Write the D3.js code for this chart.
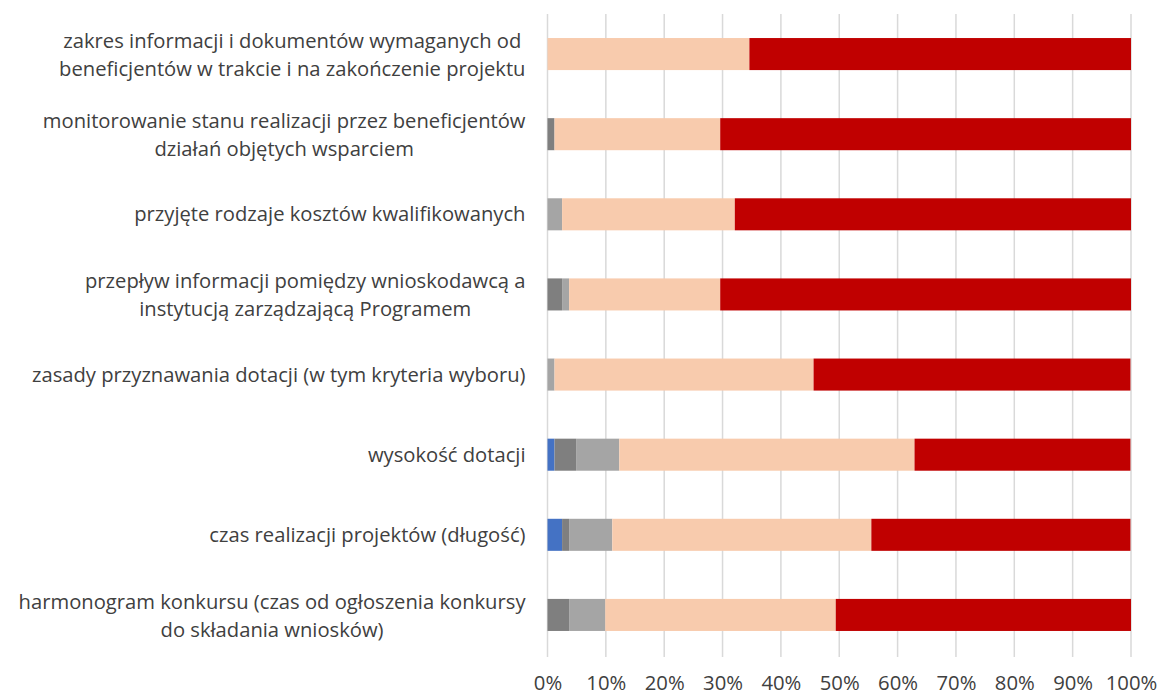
<!DOCTYPE html>
<html>
<head>
<meta charset="utf-8">
<script src="https://cdn.jsdelivr.net/npm/d3@7"></script>
<style>
  body { margin: 0; background: #fff; }
  text { font-family: "Open Sans", Lato, sans-serif; font-weight: 400; fill: #404040; }
</style>
</head>
<body>
<div id="chart"></div>
<script>
// categories (top to bottom), each label split in lines
var categories = [
  ["zakres informacji i dokumentów wymaganych od", "beneficjentów w trakcie i na zakończenie projektu"],
  ["monitorowanie stanu realizacji przez beneficjentów", "działań objętych wsparciem"],
  ["przyjęte rodzaje kosztów kwalifikowanych"],
  ["przepływ informacji pomiędzy wnioskodawcą a", "instytucją zarządzającą Programem"],
  ["zasady przyznawania dotacji (w tym kryteria wyboru)"],
  ["wysokość dotacji"],
  ["czas realizacji projektów (długość)"],
  ["harmonogram konkursu (czas od ogłoszenia konkursy", "do składania wniosków)"]
];

// series values in %
var s1 = [0, 0, 0, 0, 0, 1.2, 2.5, 0];
var s2 = [0, 1.2, 0, 2.5, 0, 3.7, 1.2, 3.7];
var s3 = [0, 0, 2.5, 1.2, 1.2, 7.4, 7.4, 6.2];
var s4 = [34.6, 28.4, 29.6, 25.9, 44.4, 50.6, 44.4, 39.5];
var s5 = [65.4, 70.4, 67.9, 70.4, 54.3, 37.0, 44.4, 50.6];

var seriesKeys = ["s1", "s2", "s3", "s4", "s5"];
var colors = ["#4472C4", "#7F7F7F", "#A5A5A5", "#F8CBAD", "#C00000"];
var xTicks = [0, 10, 20, 30, 40, 50, 60, 70, 80, 90, 100];

var svgWidth = 1159;
var svgHeight = 696;

var margin = { top: 14, right: 28, bottom: 41, left: 547.5 };
var width = svgWidth - margin.left - margin.right;
var height = svgHeight - margin.top - margin.bottom;

var svg = d3.select("#chart")
  .append("svg")
  .attr("width", svgWidth)
  .attr("height", svgHeight);

var chartGroup = svg.append("g")
  .attr("transform", `translate(${margin.left}, ${margin.top})`);

// build rows
var rows = categories.map(function(c, i) {
  return { idx: i, s1: s1[i], s2: s2[i], s3: s3[i], s4: s4[i], s5: s5[i] };
});

var xScale = d3.scaleLinear().domain([0, 100]).range([0, width]);
var yScale = d3.scaleBand()
  .domain(d3.range(categories.length))
  .range([0, height])
  .paddingInner(0.6)
  .paddingOuter(0.3);

// gridlines
chartGroup.append("g")
  .selectAll("line")
  .data(xTicks)
  .enter()
  .append("line")
  .attr("x1", d => xScale(d))
  .attr("x2", d => xScale(d))
  .attr("y1", 0)
  .attr("y2", height + 2)
  .attr("stroke", "#d9d9d9")
  .attr("stroke-width", 1.5);

// stacked bars
var stacked = d3.stack().keys(seriesKeys)(rows);

chartGroup.append("g")
  .selectAll("g")
  .data(stacked)
  .enter()
  .append("g")
  .attr("fill", (d, i) => colors[i])
  .selectAll("rect")
  .data(d => d)
  .enter()
  .append("rect")
  .attr("x", d => xScale(d[0]))
  .attr("width", d => xScale(d[1]) - xScale(d[0]))
  .attr("y", d => yScale(d.data.idx))
  .attr("height", yScale.bandwidth());

// x axis labels
var bottomAxis = d3.axisBottom(xScale)
  .tickValues(xTicks)
  .tickFormat(d => d + "%")
  .tickSize(0)
  .tickPadding(21);

var xAxis = chartGroup.append("g")
  .attr("transform", `translate(0, ${height})`)
  .call(bottomAxis);
xAxis.select(".domain").remove();
xAxis.selectAll("text")
  .attr("font-size", "20.3px")
  .style("font-family", "'Open Sans', Lato, sans-serif")
  .attr("fill", "#404040");

// category labels
var lineHeight = 28;
var labels = chartGroup.append("g")
  .selectAll("g")
  .data(categories)
  .enter()
  .append("g")
  .attr("transform", (d, i) => `translate(0, ${yScale(i) + yScale.bandwidth() / 2})`);

labels.each(function(lines) {
  var g = d3.select(this);
  var t = g.append("text")
    .attr("font-size", "20.2px");
  var off = lines.length > 1 ? 8 : 7;
  lines.forEach(function(l, j) {
    t.append("tspan").attr("y", -((lines.length - 1) * lineHeight) / 2 + off + j * lineHeight).text(l);
  });
  // right-align the block, center lines inside it
  var tsp = t.selectAll("tspan").nodes();
  var w = d3.max(tsp, n => n.getComputedTextLength());
  tsp.forEach(function(n) {
    var lw = n.getComputedTextLength();
    d3.select(n).attr("x", -22 - w + (w - lw) / 2);
  });
});
</script>
</body>
</html>
